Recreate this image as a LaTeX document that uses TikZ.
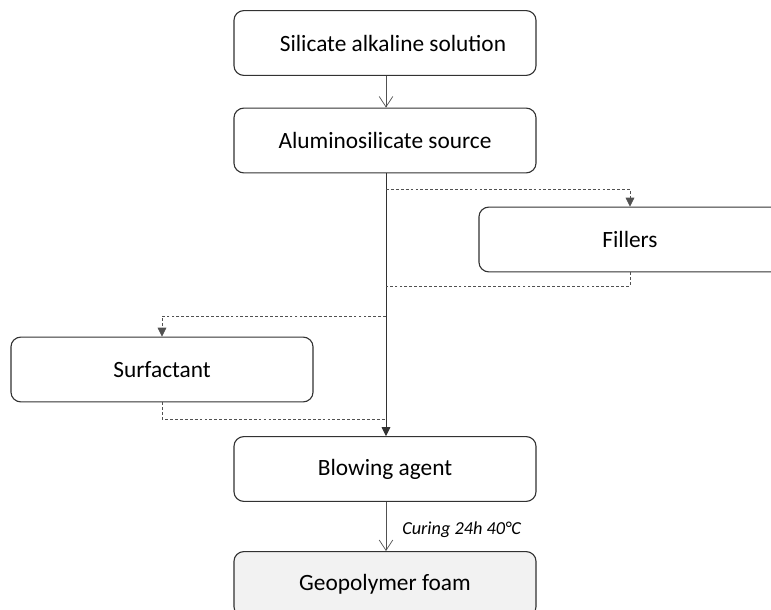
\documentclass[tikz,border=0pt]{standalone}
\usepackage{fontspec}
\setmainfont{Carlito}
\usetikzlibrary{arrows.meta,calc}
\definecolor{boxline}{RGB}{50,50,50}
\definecolor{foamgrey}{RGB}{242,242,242}

\begin{document}
\begin{tikzpicture}[x=0.025cm, y=-0.025cm,
    stage/.style={rectangle, draw=boxline, fill=white, rounded corners=7pt, line width=0.8pt,
                  minimum width=7.55cm, minimum height=1.62cm, align=center,
                  font=\fontsize{16.6}{20}\selectfont},
    flow/.style={-{Straight Barb[length=2.6mm, width=3.4mm]}, boxline!85, line width=0.5pt},
    feed/.style={-{Triangle[length=2.2mm, width=2.2mm]}, boxline, line width=0.5pt},
    opt/.style={dashed, dash pattern=on 2pt off 1.5pt, boxline!85, line width=0.5pt}
]
\useasboundingbox (0,0) rectangle (771,610);
\clip (0,0) rectangle (771,610);

\node[stage] (silicate) at (385,43) {\hspace{0.4cm}Silicate alkaline solution};
\node[stage] (alumino) at (385,140.5) {Aluminosilicate source};
\node[stage] (fillers) at (630,239.5) {Fillers};
\node[stage] (surfactant) at (162,369.5) {Surfactant};
\node[stage] (blowing) at (385,469) {Blowing agent};
\node[stage, fill=foamgrey] (foam) at (385,584) {Geopolymer foam};

% branch points on the main line
\coordinate (toFill) at (386,189);
\coordinate (fromFill) at (386,286);
\coordinate (toSurf) at (386,316);
\coordinate (fromSurf) at (386,419);

\draw[flow] (silicate.south -| 386,0) -- (alumino.north -| 386,0);
\draw[feed] (alumino.south -| 386,0) -- (blowing.north -| 386,0);
\draw[flow] (blowing.south -| 386,0) -- node[right=8pt, yshift=-2pt, text=black, font=\fontsize{13}{16}\selectfont\itshape] {Curing 24h 40°C} (foam.north -| 386,0);

\draw[opt, -{Triangle[length=2.2mm, width=2.2mm]}] (toFill) -| (fillers.north);
\draw[opt] (fillers.south) |- (fromFill);
\draw[opt, -{Triangle[length=2.2mm, width=2.2mm]}] (toSurf) -| (surfactant.north);
\draw[opt] (surfactant.south) |- (fromSurf);
\end{tikzpicture}
\end{document}
